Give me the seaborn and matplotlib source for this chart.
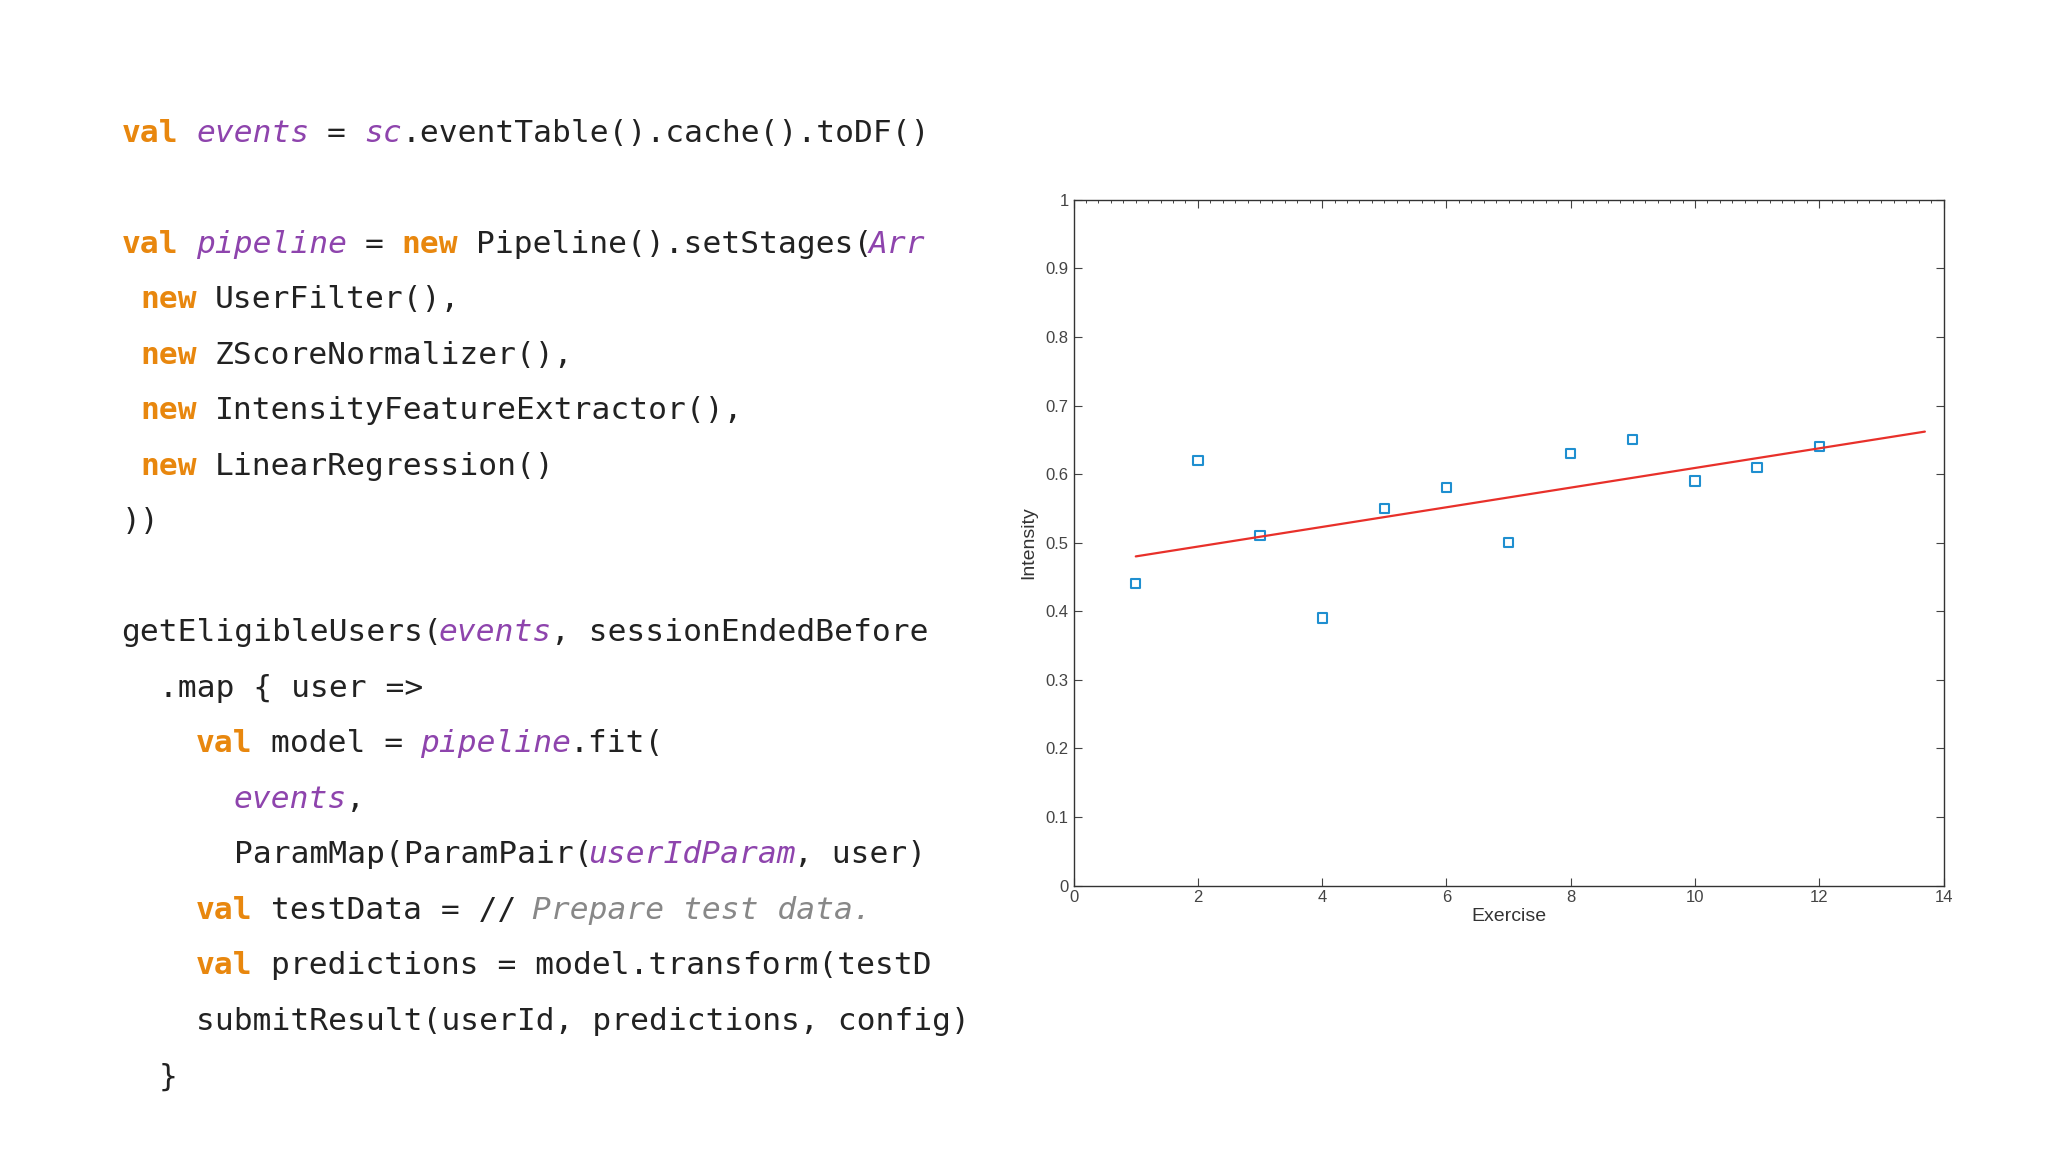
import matplotlib
matplotlib.use("Agg")
import matplotlib.pyplot as plt
import seaborn as sns
import pandas as pd
from matplotlib.ticker import AutoMinorLocator

exercise = [1, 2, 3, 4, 5, 6, 7, 8, 9, 10, 11, 12]
intensity = [0.44, 0.62, 0.51, 0.39, 0.55, 0.58, 0.50, 0.63, 0.65, 0.59, 0.61, 0.64]
fit_x = [1.0, 13.7]
fit_y = [0.48, 0.662]
x_ticks = [0, 2, 4, 6, 8, 10, 12, 14]
y_ticks = [0, 0.1, 0.2, 0.3, 0.4, 0.5, 0.6, 0.7, 0.8, 0.9, 1]
y_labels = ["0", "0.1", "0.2", "0.3", "0.4", "0.5", "0.6", "0.7", "0.8", "0.9", "1"]

K, P, C, N = "#E8870E", "#8E44AD", "#888888", "#222222"
code_lines = [
    [("val ", K), ("events", P), (" = ", N), ("sc", P), (".eventTable().cache().toDF()", N)],
    None,
    [("val ", K), ("pipeline", P), (" = ", N), ("new ", K), ("Pipeline().setStages(", N), ("Arr", P)],
    [(" new ", K), ("UserFilter(),", N)],
    [(" new ", K), ("ZScoreNormalizer(),", N)],
    [(" new ", K), ("IntensityFeatureExtractor(),", N)],
    [(" new ", K), ("LinearRegression()", N)],
    [("))", N)],
    None,
    [("getEligibleUsers(", N), ("events", P), (", sessionEndedBefore", N)],
    [("  .map { user =>", N)],
    [("    val ", K), ("model = ", N), ("pipeline", P), (".fit(", N)],
    [("      ", N), ("events", P), (",", N)],
    [("      ParamMap(ParamPair(", N), ("userIdParam", P), (", user)", N)],
    [("    val ", K), ("testData = // ", N), ("Prepare test data.", C)],
    [("    val ", K), ("predictions = model.transform(testD", N)],
    [("    submitResult(userId, predictions, config)", N)],
    [("  }", N)],
]

sns.set_theme(style="white")
fig = plt.figure(figsize=(20.48, 11.52), dpi=100)
fig.patch.set_facecolor("white")

x0 = 93 / 1568
cw = 14.3 / 1568
y_top = 102 / 882
dy = 42.5 / 882
for i, segs in enumerate(code_lines):
    if segs is None:
        continue
    y = 1 - (y_top + i * dy)
    col = 0
    for txt, c in segs:
        lead = len(txt) - len(txt.lstrip(" "))
        body = txt.strip(" ")
        if body:
            fig.text(x0 + (col + lead) * cw, y, body, color=c, family="DejaVu Sans Mono",
                     fontsize=22.5, fontweight="bold" if c == K else "normal",
                     fontstyle="italic" if c in (P, C) else "normal", va="center", ha="left")
        col += len(txt)

ax = fig.add_axes([822 / 1568, 1 - 678 / 882, (1488 - 822) / 1568, (678 - 153) / 882])
df = pd.DataFrame({"Exercise": exercise, "Intensity": intensity})
sns.lineplot(x=fit_x, y=fit_y, ax=ax, color="#e8302a", linewidth=1.6)
sns.scatterplot(data=df, x="Exercise", y="Intensity", ax=ax, marker="s", s=45,
                facecolor="none", edgecolor="#1f8fd0", linewidth=1.5)
ax.set_xlim(0, 14)
ax.set_ylim(0, 1)
ax.set_xticks(x_ticks)
ax.set_xticklabels([str(v) for v in x_ticks])
ax.set_yticks(y_ticks)
ax.set_yticklabels(y_labels)
for lab in ax.get_xticklabels() + ax.get_yticklabels():
    lab.set_family("Liberation Sans")
ax.tick_params(direction="in", top=True, right=True, labelsize=12, colors="#444444",
               length=6, width=0.8, left=True, bottom=True)
ax.xaxis.set_minor_locator(AutoMinorLocator(10))
ax.tick_params(which="minor", direction="in", top=True, bottom=False, length=2, width=0.6)
for s in ax.spines.values():
    s.set_color("#333333")
    s.set_linewidth(1.0)
ax.set_xlabel("Exercise", fontsize=14, color="#333333", labelpad=2, family="Liberation Sans")
ax.set_ylabel("Intensity", fontsize=14, color="#333333", labelpad=6, family="Liberation Sans")
fig.savefig("out.png", dpi=100)
